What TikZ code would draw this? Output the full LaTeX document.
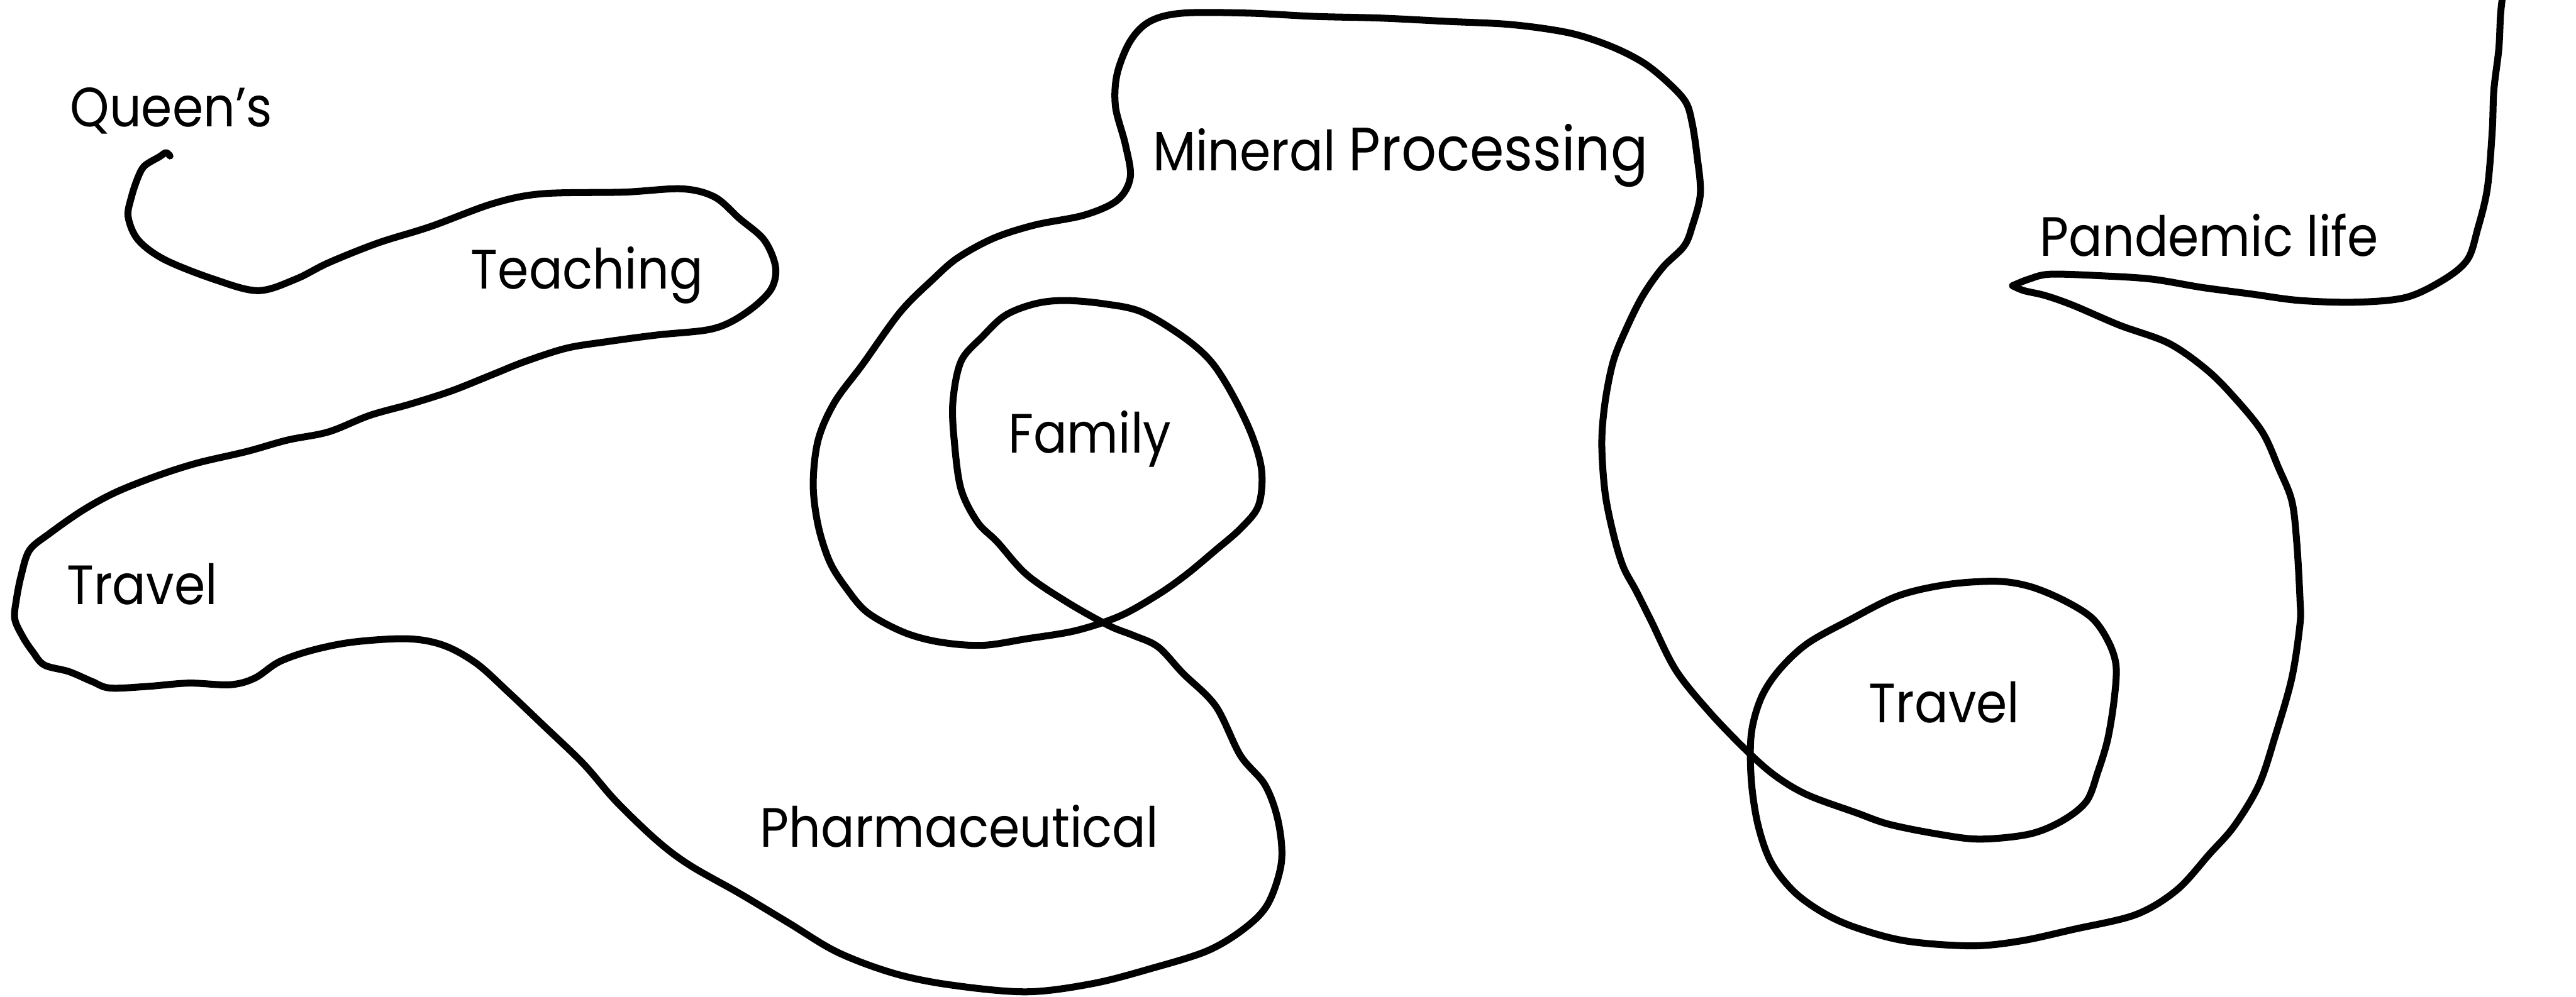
\documentclass[tikz,border=0pt]{standalone}
\usepackage{fontspec}
\setmainfont{Poppins}[FakeStretch=0.9]
\begin{document}
\begin{tikzpicture}[x=0.01cm,y=-0.01cm,
  lbl/.style={anchor=base west,inner sep=0pt,font=\fontsize{9.6}{11}\selectfont},
  stroke/.style={line width=1.2pt,line cap=round,line join=round}]
\useasboundingbox (0,0) rectangle (1568,607);
\fill[white] (0,0) rectangle (1568,607);
\node[lbl] (queens) at (42,77) {Queen’s};
\node[lbl] (teaching) at (286,176) {Teaching};
\node[lbl] (travelA) at (40,368) {Travel};
\node[lbl] (family) at (613,276) {Family};
\node[lbl] (mineral) at (701,104) {Mineral {\fontsize{10.6}{12}\selectfont Processing}};
\node[lbl] (pandemic) at (1241,156) {Pandemic life};
\node[lbl] (travelB) at (1137,440) {Travel};
\node[lbl] (pharma) at (462,516) {Pharmaceutical};
\draw[stroke] plot[smooth,tension=0.55] coordinates {
(103.5,95) (101,93) (97,95.5) (88,101) (84,108) (80,120) (78,132) (84,146)
(100,158) (130,170) (157,177) (180,170) (200,160) (230,148) (262,138) (300,124)
(330,118) (380,117) (415,115) (435,120) (450,133) (465,146) (472,162) (470,175)
(460,186) (445,196) (430,201) (400,204) (370,208) (345,212) (320,220) (300,228)
(275,238) (250,246) (225,253) (200,263) (175,268) (150,275) (120,282) (95,290)
(70,300) (50,311) (30,325) (18,335) (13,350) (10,365) (9,377) (14,388) (20,397)
(27,405) (42,409) (56,415) (67,419) (90,418) (115,416) (140,417) (155,413)
(170,403) (190,396) (215,391) (248,389) (270,393) (290,404) (310,422) (330,441)
(355,465) (375,488) (400,512) (420,527) (450,544) (480,562) (510,580) (545,593)
(580,600) (625,604) (665,599) (700,590) (735,579) (758,565) (772,550) (780,525)
(778,500) (770,478) (755,460) (740,430) (720,410) (705,394) (690,387) (675,381)
(650,367) (625,350) (607,330) (595,318) (585,298) (581,270) (580,245) (585,220)
(598,205) (612,192) (630,185) (648,183) (672,185) (695,190) (720,205) (737,220)
(750,240) (762,265) (768,287) (766,308) (755,322) (740,335) (722,350) (705,362)
(682,375) (655,384) (625,389) (598,393) (572,391) (550,385) (528,373) (515,358)
(505,342) (498,320) (495,295) (498,268) (508,245) (525,222) (548,190) (568,170)
(583,157) (605,145) (630,137) (660,131) (680,122) (688,108) (685,88) (679,65)
(680,45) (688,25) (700,13) (720,8) (760,8) (800,10) (840,11) (880,13) (920,15)
(955,20) (980,28) (1000,38) (1015,50) (1026,62) (1030,75) (1033,95) (1035,118)
(1030,138) (1025,150) (1012,163) (1000,180) (990,200) (982,220) (977,245)
(975,270) (977,300) (982,325) (988,345) (996,360) (1005,378) (1020,408)
(1040,433) (1062,456) (1080,472) (1100,484) (1130,495) (1150,502) (1180,508)
(1205,511) (1235,508) (1255,500) (1270,488) (1277,470) (1283,450) (1287,425)
(1288,405) (1283,390) (1273,376) (1255,365) (1235,357) (1215,354) (1185,356)
(1155,363) (1125,378) (1100,392) (1083,408) (1072,425) (1066,447) (1066,475)
(1070,502) (1078,525) (1092,543) (1110,556) (1130,565) (1160,573) (1200,576)
(1230,573) (1262,566) (1300,557) (1325,542) (1345,520) (1360,503) (1375,478)
(1385,448) (1395,413) (1400,380) (1400,365) (1398,330) (1395,305) (1387,285)
(1377,263) (1360,242) (1343,225) (1320,209) (1290,198) (1262,186) (1245,180)
(1232,177) (1225,174)};
\draw[stroke] plot[smooth,tension=0.55] coordinates {
(1225,174) (1235,170) (1248,167) (1280,168) (1310,170) (1340,175) (1370,179)
(1400,183) (1435,184) (1465,181) (1488,170) (1502,158) (1508,140) (1514,115)
(1517,80) (1518,55) (1521,30) (1522,10) (1523,0)};
\end{tikzpicture}
\end{document}
